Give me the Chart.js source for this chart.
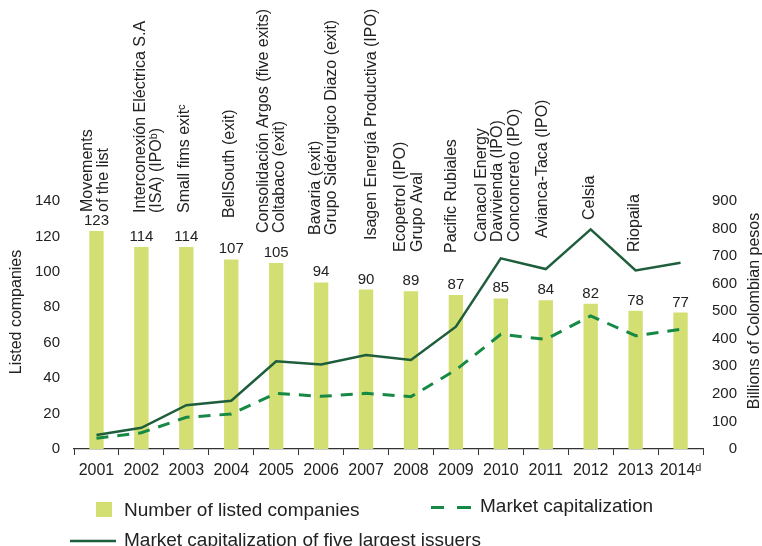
<!DOCTYPE html>
<html>
<head>
<meta charset="utf-8">
<script src="https://cdn.jsdelivr.net/npm/chart.js@4/dist/chart.umd.min.js"></script>
<style>
  html, body { margin: 0; padding: 0; background: #fff; }
</style>
</head>
<body>
<canvas id="chart" width="762" height="546"></canvas>
<script>
// data
const years = ['2001', '2002', '2003', '2004', '2005', '2006', '2007', '2008', '2009', '2010', '2011', '2012', '2013', '2014ᵈ'];
const listedCompanies = [123, 114, 114, 107, 105, 94, 90, 89, 87, 85, 84, 82, 78, 77];
const marketCap = [39, 59, 115, 127, 202, 191, 202, 190, 287, 416, 398, 483, 411, 434];
const topFiveCap = [51, 77, 159, 175, 318, 307, 341, 323, 444, 692, 653, 797, 648, 676];
const movements = [
  ['Movements', 'of the list'],
  ['Interconexión Eléctrica S.A', '(ISA) (IPOᵇ)'],
  ['Small fims exitᶜ'],
  ['BellSouth (exit)'],
  ['Consolidación Argos (five exits)', 'Coltabaco (exit)'],
  ['Bavaria (exit)', 'Grupo Sidérurgico Diazo (exit)'],
  ['Isagen Energía Productiva (IPO)'],
  ['Ecopetrol (IPO)', 'Grupo Aval'],
  ['Pacific Rubiales'],
  ['Canacol Energy', 'Davivienda (IPO)', 'Conconcreto (IPO)'],
  ['Avianca-Taca (IPO)'],
  ['Celsia'],
  ['Riopaila'],
  []
];

// where each rotated note sits (pixels): bottom edge and sideways nudge from the bar
const noteBottom = [212, 213, 213, 218, 233, 235, 240, 252, 253, 242, 238, 220, 252, 0];
const noteShift = [-1, 7, -1.5, -1.5, -4.5, 2.5, 6, -1.7, -4, -3, -3, -1, -1, 0];

const FONT = 'Arial, "Liberation Sans", sans-serif';
const TXT = '#222';

function vText(ctx, t, x, y) {
  ctx.save();
  ctx.translate(x, y);
  ctx.rotate(-Math.PI / 2);
  ctx.fillText(t, 0, 0);
  ctx.restore();
}

const extras = {
  id: 'extras',
  afterDraw(chart) {
    const ctx = chart.ctx;
    const x = chart.scales.x;

    // axis titles
    ctx.save();
    ctx.font = '16px ' + FONT;
    ctx.fillStyle = TXT;
    ctx.textAlign = 'center';
    ctx.textBaseline = 'middle';
    vText(ctx, 'Listed companies', 17, 312);
    vText(ctx, 'Billions of Colombian pesos', 755, 311);
    ctx.restore();

    // value labels over bars
    ctx.save();
    ctx.font = '15px ' + FONT;
    ctx.fillStyle = TXT;
    ctx.textAlign = 'center';
    ctx.textBaseline = 'alphabetic';
    chart.getDatasetMeta(0).data.forEach((bar, i) => {
      ctx.fillText(String(listedCompanies[i]), bar.x, bar.y - 6);
    });
    ctx.restore();

    // rotated notes
    ctx.save();
    ctx.font = '16px ' + FONT;
    ctx.fillStyle = TXT;
    ctx.textAlign = 'left';
    ctx.textBaseline = 'middle';
    const lh = 16.5;
    movements.forEach((lines, i) => {
      if (!lines.length) return;
      const cx = x.getPixelForValue(i) + noteShift[i];
      const x0 = cx - (lines.length - 1) * lh / 2;
      ctx.save();
      ctx.translate(x0, noteBottom[i]);
      ctx.rotate(-Math.PI / 2);
      lines.forEach((t, k) => ctx.fillText(t, 0, k * lh));
      ctx.restore();
    });
    ctx.restore();

    // legend
    const ds = chart.data.datasets;
    ctx.save();
    ctx.font = '19px ' + FONT;
    ctx.textBaseline = 'alphabetic';
    ctx.textAlign = 'left';

    ctx.fillStyle = ds[0].backgroundColor;
    ctx.fillRect(96, 502, 16, 15);
    ctx.fillStyle = TXT;
    ctx.fillText(ds[0].label, 124, 516);

    ctx.strokeStyle = ds[1].borderColor;
    ctx.lineWidth = 3;
    ctx.beginPath();
    ctx.moveTo(431, 507.5); ctx.lineTo(444, 507.5);
    ctx.moveTo(457, 507.5); ctx.lineTo(471, 507.5);
    ctx.stroke();
    ctx.fillText(ds[1].label, 480, 512);

    ctx.strokeStyle = ds[2].borderColor;
    ctx.lineWidth = 2.5;
    ctx.beginPath();
    ctx.moveTo(70, 541); ctx.lineTo(116, 541);
    ctx.stroke();
    ctx.fillText(ds[2].label, 124, 546);
    ctx.restore();
  }
};

new Chart(document.getElementById('chart'), {
  type: 'bar',
  data: {
    labels: years,
    datasets: [
      {
        type: 'bar',
        label: 'Number of listed companies',
        data: listedCompanies,
        backgroundColor: '#d4df73',
        yAxisID: 'y',
        barPercentage: 0.32,
        categoryPercentage: 1,
        order: 3
      },
      {
        type: 'line',
        label: 'Market capitalization',
        data: marketCap,
        borderColor: '#168a45',
        borderWidth: 3,
        borderDash: [12, 9],
        pointRadius: 0,
        tension: 0,
        fill: false,
        yAxisID: 'y1',
        order: 2
      },
      {
        type: 'line',
        label: 'Market capitalization of five largest issuers',
        data: topFiveCap,
        borderColor: '#1e5e3c',
        borderWidth: 2.5,
        pointRadius: 0,
        tension: 0,
        fill: false,
        yAxisID: 'y1',
        order: 1
      }
    ]
  },
  options: {
    responsive: false,
    animation: false,
    devicePixelRatio: 1,
    layout: { padding: { top: 201, left: 0, right: 25, bottom: 0 } },
    plugins: {
      legend: { display: false },
      tooltip: { enabled: false }
    },
    scales: {
      x: {
        offset: true,
        grid: { display: true, drawOnChartArea: false, drawTicks: true, tickLength: 6, color: '#333', offset: true },
        border: { display: true, color: '#333', width: 1.2 },
        ticks: { font: { size: 16, family: FONT }, color: TXT, padding: 6, maxRotation: 0, autoSkip: false },
        afterFit: s => { s.height = 97; }
      },
      y: {
        position: 'left',
        min: 0, max: 140,
        grid: { display: false, drawTicks: false },
        border: { display: false },
        ticks: { stepSize: 20, font: { size: 15, family: FONT }, color: TXT, padding: 14 },
        afterFit: s => { s.width = 74; }
      },
      y1: {
        position: 'right',
        min: 0, max: 900,
        grid: { display: false, drawTicks: false },
        border: { display: false },
        ticks: { stepSize: 100, font: { size: 15, family: FONT }, color: TXT, padding: 9, crossAlign: 'far' },
        afterFit: s => { s.width = 34; }
      }
    }
  },
  plugins: [extras]
});
</script>
</body>
</html>
